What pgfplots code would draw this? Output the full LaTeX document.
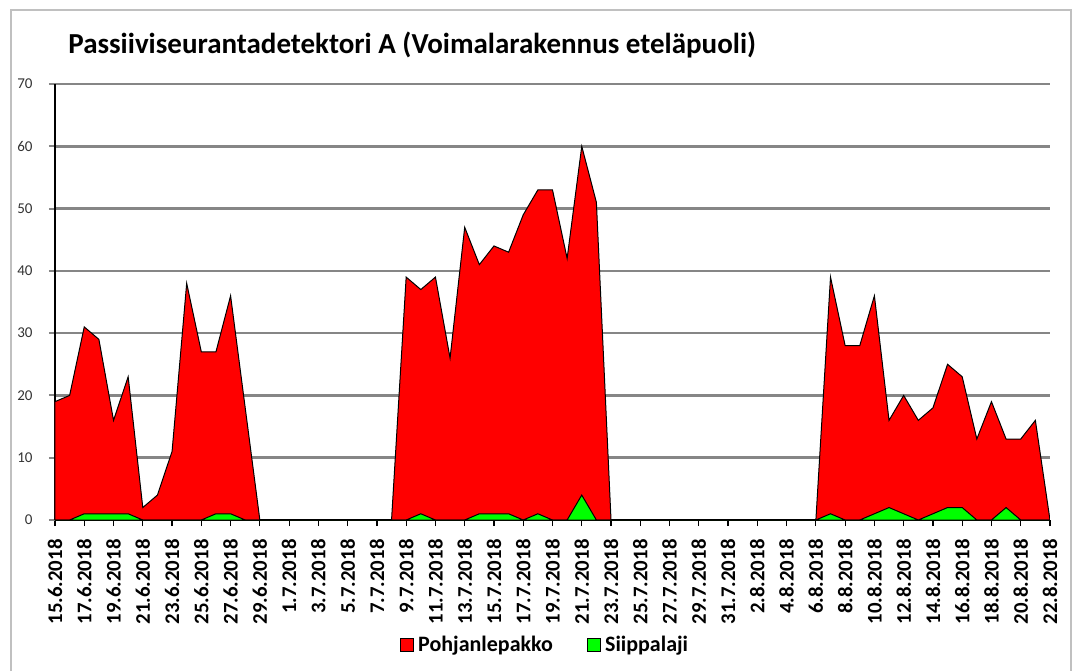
\documentclass[border=0pt]{standalone}
\usepackage{pgfplots}
\usepackage{pgfplotstable}
\pgfplotsset{compat=1.18}
\usepackage{fontspec}
\setmainfont{Carlito}
\definecolor{gridgray}{HTML}{868686}
\definecolor{framegray}{HTML}{C0C0C0}
\pgfplotstableread{
d r g
0 19 0
1 20 0
2 31 1
3 29 1
4 16 1
5 23 1
6 2 0
7 4 0
8 11 0
9 38 0
10 27 0
11 27 1
12 36 1
13 18 0
14 0 0
15 0 0
16 0 0
17 0 0
18 0 0
19 0 0
20 0 0
21 0 0
22 0 0
23 0 0
24 39 0
25 37 1
26 39 0
27 26 0
28 47 0
29 41 1
30 44 1
31 43 1
32 49 0
33 53 1
34 53 0
35 42 0
36 60 4
37 51 0
38 0 0
39 0 0
40 0 0
41 0 0
42 0 0
43 0 0
44 0 0
45 0 0
46 0 0
47 0 0
48 0 0
49 0 0
50 0 0
51 0 0
52 0 0
53 39 1
54 28 0
55 28 0
56 36 1
57 16 2
58 20 1
59 16 0
60 18 1
61 25 2
62 23 2
63 13 0
64 19 0
65 13 2
66 13 0
67 16 0
68 0 0
}\data
\begin{document}
\begin{tikzpicture}
\useasboundingbox[fill=white] (0,0) rectangle (536.5pt,335.5pt);
\draw[framegray, line width=1pt] (5.5pt,0) -- (5.5pt,330.5pt) -- (535.5pt,330.5pt) -- (535.5pt,0);
\node[anchor=base west, font=\bfseries\fontsize{14.5}{17}\selectfont, inner sep=0pt] at (34pt,308.85pt) {Passiiviseurantadetektori A (Voimalarakennus eteläpuoli)};
\begin{axis}[
  at={(27.5pt,75.5pt)}, anchor=south west,
  width=497.5pt, height=218pt, scale only axis,
  xmin=0, xmax=68, ymin=0, ymax=70,
  axis lines=left, axis line style={-, black, line width=0.8pt},
  xtick={0,2,...,68},
  xticklabels={15.6.2018,17.6.2018,19.6.2018,21.6.2018,23.6.2018,25.6.2018,27.6.2018,29.6.2018,1.7.2018,3.7.2018,5.7.2018,7.7.2018,9.7.2018,11.7.2018,13.7.2018,15.7.2018,17.7.2018,19.7.2018,21.7.2018,23.7.2018,25.7.2018,27.7.2018,29.7.2018,31.7.2018,2.8.2018,4.8.2018,6.8.2018,8.8.2018,10.8.2018,12.8.2018,14.8.2018,16.8.2018,18.8.2018,20.8.2018,22.8.2018},
  ytick={0,10,...,70},
  ymajorgrids, major grid style={gridgray, line width=1.3pt},
  tick align=outside, major tick length=3pt,
  x tick style={black, line width=0.6pt},
  y tick style={gridgray, line width=1pt},
  xticklabel shift=6.5pt, yticklabel shift=8pt,
  xticklabel style={rotate=90, anchor=east, inner sep=0pt, font=\bfseries\fontsize{10.4}{12}\selectfont},
  yticklabel style={anchor=east, inner sep=0pt, font=\fontsize{7.5}{9}\selectfont, text=black!80},
  /pgf/number format/assume math mode=true,
  legend style={at={(0.4935,-0.2867)}, anchor=center, draw=none, fill=none, legend columns=2, font=\bfseries\fontsize{11}{13}\selectfont, /tikz/every even column/.append style={column sep=15pt}},
  legend image code/.code={\draw[#1, line width=0.6pt] (0pt,-3.25pt) rectangle (6.5pt,3.25pt);},
]
\addplot[fill=red, draw=black, line width=0.5pt] table[x=d,y=r]{\data} \closedcycle;
\addplot[fill=green, draw=black, line width=0.5pt] table[x=d,y=g]{\data} \closedcycle;
\legend{Pohjanlepakko, Siippalaji}
\end{axis}
\end{tikzpicture}
\end{document}
